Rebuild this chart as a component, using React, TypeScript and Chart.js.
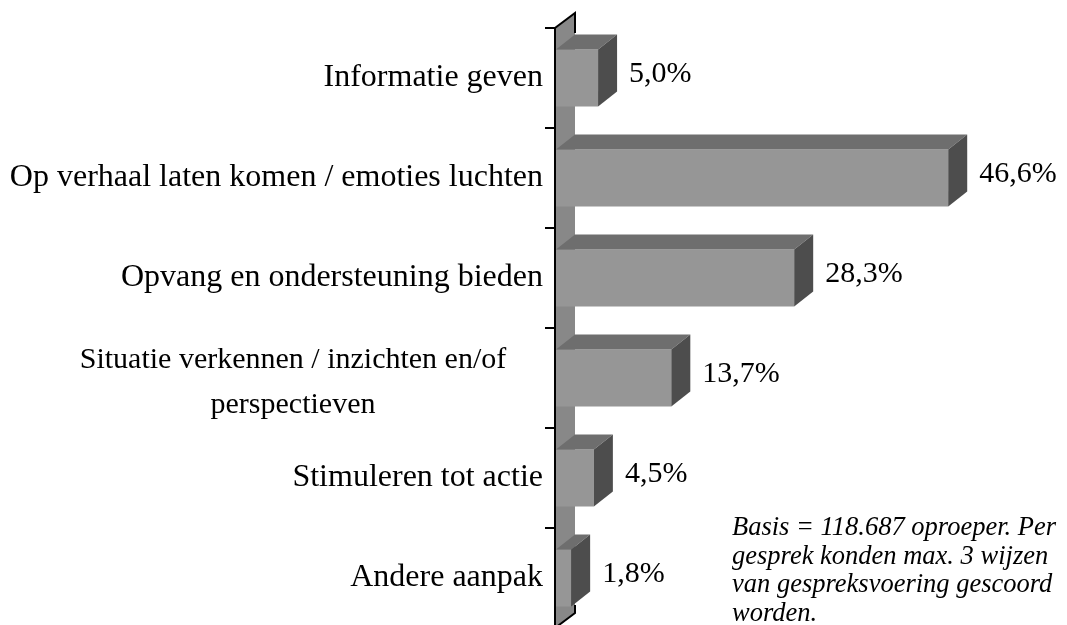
import React, { useEffect, useRef } from "react";
import { Chart, registerables } from "chart.js";

Chart.register(...registerables);

const categories: (string | string[])[] = [
  "Informatie geven",
  "Op verhaal laten komen / emoties luchten",
  "Opvang en ondersteuning bieden",
  ["Situatie verkennen / inzichten en/of", "perspectieven"],
  "Stimuleren tot actie",
  "Andere aanpak",
];
const values: number[] = [5.0, 46.6, 28.3, 13.7, 4.5, 1.8];
const noteLines: string[] = [
  "Basis = 118.687 oproeper. Per",
  "gesprek konden max. 3 wijzen",
  "van gespreksvoering gescoord",
  "worden.",
];

const FRONT = "#969696";
const TOP = "#6e6e6e";
const SIDE = "#4d4d4d";
const WALL = "#888888";
const DX = 19;
const DY = 15;
const FONT = '"Liberation Serif", "Times New Roman", serif';

const fmt = (v: number) => v.toFixed(1).replace(".", ",") + "%";

const threeD = {
  id: "threeD",
  beforeDatasetsDraw(chart: any) {
    const { ctx, chartArea } = chart;
    const l = chartArea.left;
    ctx.save();
    ctx.fillStyle = WALL;
    ctx.beginPath();
    ctx.moveTo(l, chartArea.top);
    ctx.lineTo(l + DX, chartArea.top - DY);
    ctx.lineTo(l + DX, chartArea.bottom - DY);
    ctx.lineTo(l, chartArea.bottom);
    ctx.closePath();
    ctx.fill();
    ctx.restore();
  },
  afterDatasetsDraw(chart: any) {
    const { ctx, chartArea } = chart;
    const l = chartArea.left;
    const meta = chart.getDatasetMeta(0);
    ctx.save();
    meta.data.forEach((el: any, i: number) => {
      const p = el.getProps(["x", "y", "base", "height"], true);
      const x0 = p.base;
      const x1 = p.x;
      const top = p.y - p.height / 2;
      const bot = p.y + p.height / 2;
      ctx.fillStyle = TOP;
      ctx.beginPath();
      ctx.moveTo(x0, top);
      ctx.lineTo(x0 + DX, top - DY);
      ctx.lineTo(x1 + DX, top - DY);
      ctx.lineTo(x1, top);
      ctx.closePath();
      ctx.fill();
      ctx.fillStyle = SIDE;
      ctx.beginPath();
      ctx.moveTo(x1, top);
      ctx.lineTo(x1 + DX, top - DY);
      ctx.lineTo(x1 + DX, bot - DY);
      ctx.lineTo(x1, bot);
      ctx.closePath();
      ctx.fill();
      // value label
      ctx.fillStyle = "#000";
      ctx.font = `30px ${FONT}`;
      ctx.textAlign = "left";
      ctx.textBaseline = "middle";
      ctx.fillText(fmt(values[i]), x1 + 31, p.y - 4);
    });

    // axis / wall outline
    ctx.strokeStyle = "#000";
    ctx.lineWidth = 2;
    ctx.beginPath();
    ctx.moveTo(l - 1, chartArea.bottom);
    ctx.lineTo(l - 1, chartArea.top);
    ctx.lineTo(l + DX, chartArea.top - DY);
    ctx.lineTo(l + DX, chartArea.top - DY + 20);
    ctx.stroke();
    ctx.beginPath();
    ctx.moveTo(l - 1, chartArea.bottom);
    ctx.lineTo(l + DX, chartArea.bottom - DY);
    ctx.lineTo(l + DX, chartArea.bottom - DY - 8);
    ctx.stroke();

    // ticks & labels
    const y = chart.scales.y;
    const n = categories.length;
    const band = (chartArea.bottom - chartArea.top) / n;
    ctx.lineWidth = 2;
    for (let i = 0; i <= n; i++) {
      const ty = Math.round(chartArea.top + i * band);
      ctx.beginPath();
      ctx.moveTo(l - 11, ty);
      ctx.lineTo(l, ty);
      ctx.stroke();
    }
    ctx.fillStyle = "#000";
    ctx.textBaseline = "middle";
    categories.forEach((c, i) => {
      const cy = y.getPixelForValue(i);
      if (Array.isArray(c)) {
        ctx.font = `30px ${FONT}`;
        ctx.textAlign = "center";
        const gap = 45;
        const start = cy - 18;
        c.forEach((line, k) => ctx.fillText(line, 293, start + k * gap));
      } else {
        ctx.font = `32px ${FONT}`;
        ctx.textAlign = "right";
        ctx.fillText(c, l - 13, cy);
      }
    });

    // note
    ctx.font = `italic 26.5px ${FONT}`;
    ctx.textAlign = "left";
    ctx.textBaseline = "alphabetic";
    noteLines.forEach((t, k) => ctx.fillText(t, 732, 535 + k * 28.5));
    ctx.restore();
  },
};

export default function App() {
  const ref = useRef<HTMLCanvasElement | null>(null);
  useEffect(() => {
    if (!ref.current) return;
    const chart = new Chart(ref.current, {
      type: "bar",
      data: {
        labels: categories.map((c) => (Array.isArray(c) ? c.join(" ") : c)),
        datasets: [
          {
            data: values,
            backgroundColor: FRONT,
            borderWidth: 0,
            barPercentage: 0.57,
            categoryPercentage: 1,
          },
        ],
      },
      options: {
        indexAxis: "y",
        animation: false,
        responsive: false,
        maintainAspectRatio: false,
        layout: { padding: { left: 556, top: 28, right: 6, bottom: 0 } },
        plugins: { legend: { display: false }, tooltip: { enabled: false } },
        scales: {
          x: { display: false, min: 0, max: 60 },
          y: { display: false },
        },
      },
      plugins: [threeD],
    });
    return () => chart.destroy();
  }, []);
  return (
    <div style={{ position: "fixed", left: 0, top: 0, width: 1067, height: 628, background: "#fff" }}>
      <canvas ref={ref} width={1067} height={628} style={{ display: "block" }} />
    </div>
  );
}
